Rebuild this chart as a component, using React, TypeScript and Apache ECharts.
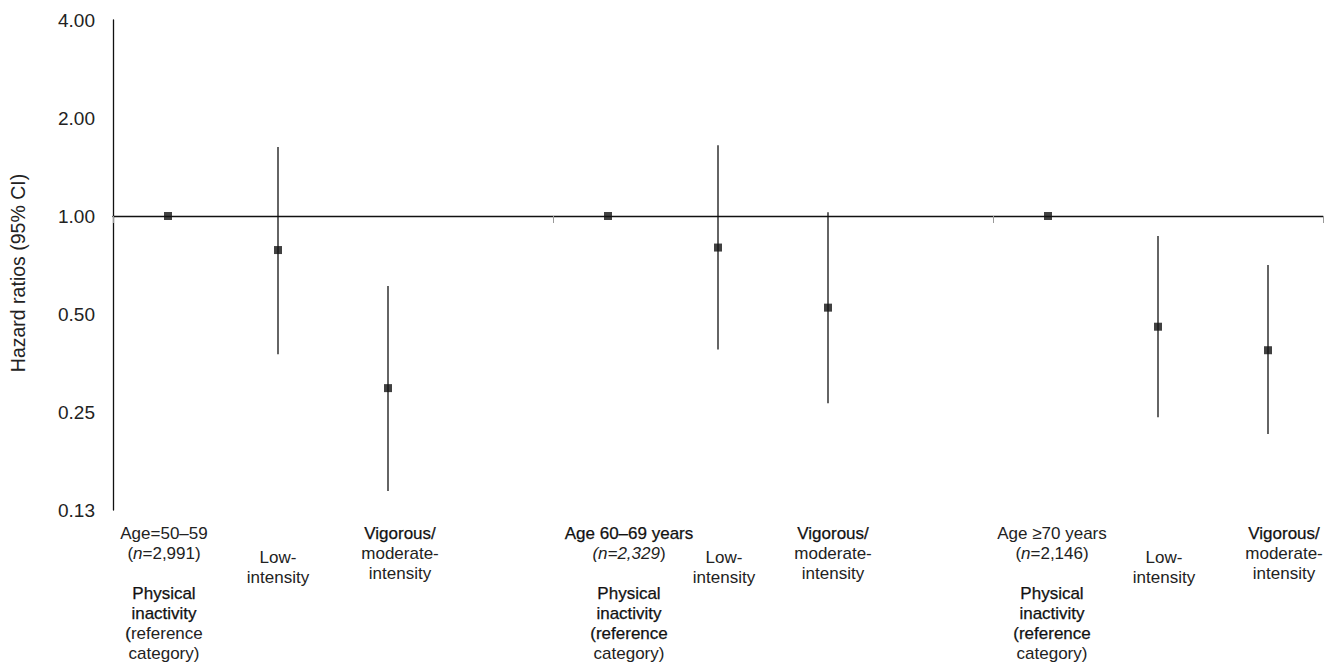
import React, { useEffect, useRef } from 'react';
import * as echarts from 'echarts';

// ---- data ----
const categories = [
  'Age 50–59: physical inactivity',
  'Age 50–59: low-intensity',
  'Age 50–59: vigorous/moderate-intensity',
  '',
  'Age 60–69: physical inactivity',
  'Age 60–69: low-intensity',
  'Age 60–69: vigorous/moderate-intensity',
  '',
  'Age ≥70: physical inactivity',
  'Age ≥70: low-intensity',
  'Age ≥70: vigorous/moderate-intensity',
];
const hazardRatio: (number | null)[] = [1.0, 0.786, 0.296, null, 1.0, 0.8, 0.523, null, 1.0, 0.457, 0.387];
const ciLower: (number | null)[] = [null, 0.376, 0.143, null, null, 0.389, 0.266, null, null, 0.241, 0.214];
const ciUpper: (number | null)[] = [null, 1.63, 0.61, null, null, 1.65, 1.026, null, null, 0.868, 0.707];
const groupBoundaries = [0, 4, 8, 11];

// label text tokens: [text, style]
type Tok = [string, string];
const refLabel1: Tok[][] = [
  [['Age=50–59', 'n']],
  [['(', 'n'], ['n', 'i'], ['=2,991)', 'n']],
  [[' ', 'n']],
  [['Physical', 'b']],
  [['inactivity', 'b']],
  [['(', 'b'], ['reference', 'n']],
  [['category)', 'n']],
];
const refLabel2: Tok[][] = [
  [['Age 60–69 years', 'b']],
  [['(n=2,329', 'i'], [')', 'n']],
  [[' ', 'n']],
  [['Physical', 'b']],
  [['inactivity', 'b']],
  [['(reference', 'b']],
  [['category)', 'n']],
];
const refLabel3: Tok[][] = [
  [['Age ≥70 years', 'n']],
  [['(', 'n'], ['n', 'i'], ['=2,146)', 'n']],
  [[' ', 'n']],
  [['Physical', 'b']],
  [['inactivity', 'b']],
  [['(reference', 'b']],
  [['category)', 'n']],
];
const lowLabel: Tok[][] = [[[' ', 'gap']], [['Low-', 'n']], [['intensity', 'n']]];
const vigLabel: Tok[][] = [[['Vigorous/', 'b']], [['moderate-', 'n']], [['intensity', 'n']]];
const labelTokens: Tok[][][] = [
  refLabel1, lowLabel, vigLabel, [],
  refLabel2, lowLabel, vigLabel, [],
  refLabel3, lowLabel, vigLabel,
];
const labelShift = [-4, 0, 12, 0, 21, 6, 5, 0, 4, 6, 16];

// ---- styles ----
const FONT = '"Liberation Sans", Arial, Helvetica, sans-serif';
const TEXT = '#222';
const baseRich: Record<string, any> = {
  n: { fontSize: 17, lineHeight: 20, color: TEXT, fontFamily: FONT },
  b: { fontSize: 17, lineHeight: 20, color: '#111', fontFamily: FONT, textBorderColor: '#111', textBorderWidth: 0.25 },
  i: { fontSize: 17, lineHeight: 20, color: TEXT, fontFamily: FONT, fontStyle: 'italic' },
  gap: { fontSize: 17, lineHeight: 24, color: TEXT, fontFamily: FONT },
};
const rich: Record<string, any> = { ...baseRich };

function buildLabel(idx: number): string {
  const lines = labelTokens[idx] || [];
  const s = labelShift[idx] || 0;
  return lines
    .map((line) =>
      line
        .map(([t, st], k) => {
          let key = st;
          if (s > 0 && k === 0) {
            key = `${st}_L${s}`;
            if (!rich[key]) rich[key] = { ...baseRich[st], padding: [0, 0, 0, 2 * s] };
          } else if (s < 0 && k === line.length - 1) {
            key = `${st}_R${-s}`;
            if (!rich[key]) rich[key] = { ...baseRich[st], padding: [0, -2 * s, 0, 0] };
          }
          return `{${key}|${t}}`;
        })
        .join('')
    )
    .join('\n');
}
const builtLabels = categories.map((_, i) => buildLabel(i));

const scatterData = hazardRatio
  .map((v, i) => (v == null ? null : [i, v]))
  .filter((d) => d !== null);
const ciData = ciLower
  .map((lo, i) => (lo == null || ciUpper[i] == null ? null : [i, lo, ciUpper[i]]))
  .filter((d) => d !== null);

export default function App() {
  const ref = useRef<HTMLDivElement>(null);
  useEffect(() => {
    const chart = echarts.init(ref.current!, null, { renderer: 'svg' });
    const option: any = {
      animation: false,
      textStyle: { fontFamily: FONT },
      grid: { left: 113, right: 9, top: 20, bottom: 156, containLabel: false, outerBoundsMode: 'none' },
      xAxis: [
        {
          type: 'category',
          data: categories,
          position: 'bottom',
          axisLine: { show: false, onZero: false },
          axisTick: { show: false },
          splitLine: { show: false },
          axisLabel: {
            interval: 0,
            margin: 13,
            formatter: (_v: string, i: number) => builtLabels[i],
            rich,
          },
        },
        {
          type: 'value',
          min: groupBoundaries[0],
          max: groupBoundaries[groupBoundaries.length - 1],
          interval: 4,
          position: 'top',
          offset: -196,
          axisLine: { show: true, onZero: false, lineStyle: { color: '#111', width: 1.3 } },
          axisTick: { show: true, inside: true, length: 7, lineStyle: { color: '#999', width: 1 } },
          axisLabel: { show: false },
          splitLine: { show: false },
        },
      ],
      yAxis: {
        type: 'log',
        logBase: 2,
        min: 0.125,
        max: 4,
        splitNumber: 5,
        axisLine: { show: true, onZero: false, lineStyle: { color: '#111', width: 1.3 } },
        axisTick: { show: false },
        splitLine: { show: false },
        axisLabel: {
          formatter: (v: number) => v.toFixed(2),
          fontSize: 19,
          color: TEXT,
          margin: 18,
          fontFamily: FONT,
        },
        name: 'Hazard ratios (95% CI)',
        nameLocation: 'middle',
        nameRotate: 90,
        nameGap: 85,
        nameTextStyle: { fontSize: 19.5, color: TEXT, fontFamily: FONT, padding: [0, 16, 0, 0] },
      },
      series: [
        {
          type: 'custom',
          xAxisIndex: 0,
          yAxisIndex: 0,
          silent: true,
          z: 2,
          encode: { x: 0, y: [1, 2] },
          data: ciData,
          renderItem: (_params: any, api: any) => {
            const x = api.value(0);
            const p1 = api.coord([x, api.value(1)]);
            const p2 = api.coord([x, api.value(2)]);
            return {
              type: 'line',
              shape: { x1: p1[0], y1: p1[1], x2: p2[0], y2: p2[1] },
              style: { stroke: '#111', lineWidth: 1.3 },
            };
          },
        },
        {
          type: 'scatter',
          xAxisIndex: 0,
          yAxisIndex: 0,
          silent: true,
          z: 3,
          symbol: 'rect',
          symbolSize: 8,
          itemStyle: { color: '#111' },
          data: scatterData,
        },
      ],
    };
    chart.setOption(option);
    return () => chart.dispose();
  }, []);
  return (
    <div
      ref={ref}
      style={{ position: 'absolute', left: 0, top: 0, width: 1332, height: 666 }}
    />
  );
}
